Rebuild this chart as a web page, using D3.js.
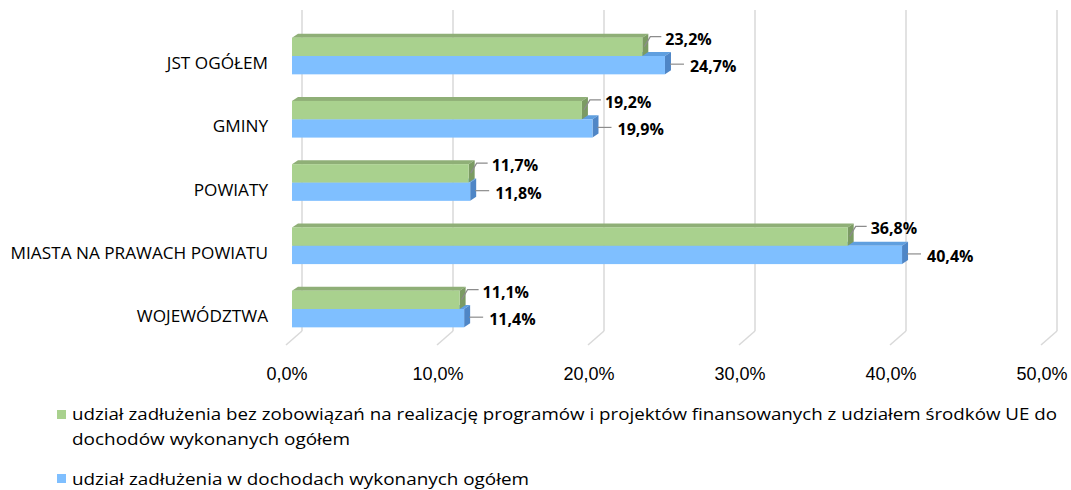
<!DOCTYPE html>
<html>
<head>
<meta charset="utf-8">
<script src="https://cdn.jsdelivr.net/npm/d3@7"></script>
<style>
  body { margin: 0; background: #fff; }
  text { fill: #000; }
</style>
</head>
<body>
<div id="chart"></div>
<script>
// chart data
var categories = ["JST OGÓŁEM", "GMINY", "POWIATY", "MIASTA NA PRAWACH POWIATU", "WOJEWÓDZTWA"];
var seriesNames = [
    "udział zadłużenia bez zobowiązań na realizację programów i projektów finansowanych z udziałem środków UE do dochodów wykonanych ogółem",
    "udział zadłużenia w dochodach wykonanych ogółem"
];
var greenValues = [23.2, 19.2, 11.7, 36.8, 11.1];
var blueValues = [24.7, 19.9, 11.8, 40.4, 11.4];
var tickValues = [0, 10, 20, 30, 40, 50];

var svgWidth = 1071;
var svgHeight = 490;

// 3D depth offset
var dx = 6, dy = 4;
var backX = 10;

var svg = d3.select("#chart")
    .append("svg")
    .attr("width", svgWidth)
    .attr("height", svgHeight);

var x = d3.scaleLinear()
    .domain([0, 50])
    .range([292, 1047]);

var y = d3.scaleBand()
    .domain(categories)
    .range([25, 340])
    .paddingInner(0.42)
    .paddingOuter(0.2);

var fmt = function (v) { return d3.format(".1f")(v).replace(".", ",") + "%"; };

// gridlines on back wall
svg.append("g")
    .selectAll("line")
    .data(tickValues)
    .enter()
    .append("line")
    .attr("x1", d => x(d) + backX)
    .attr("x2", d => x(d) + backX)
    .attr("y1", 10)
    .attr("y2", 331)
    .attr("stroke", "#d9d9d9")
    .attr("stroke-width", 1.5);

// floor diagonals
svg.append("g")
    .selectAll("line")
    .data(tickValues)
    .enter()
    .append("line")
    .attr("x1", d => x(d) + backX)
    .attr("x2", d => x(d) - 6)
    .attr("y1", 331)
    .attr("y2", 345)
    .attr("stroke", "#d9d9d9")
    .attr("stroke-width", 1.5);

// x tick labels
svg.append("g")
    .selectAll("text")
    .data(tickValues)
    .enter()
    .append("text")
    .attr("x", d => x(d) - 5)
    .attr("y", 380)
    .attr("text-anchor", "middle")
    .style("font-family", "'Liberation Sans', Arial, sans-serif")
    .style("font-size", "18px")
    .text(fmt);

// category labels
svg.append("g")
    .selectAll("text")
    .data(categories)
    .enter()
    .append("text")
    .attr("x", 268)
    .attr("y", d => y(d) + y.bandwidth() / 2 + 13)
    .attr("text-anchor", "end")
    .style("font-family", "'Open Sans', sans-serif")
    .style("font-size", "17.2px")
    .text(d => d);

var half = y.bandwidth() / 2;

function drawBar(g, val, top, front, topc, side) {
    var x0 = x(0), x1 = x(val);
    // top face
    g.append("path")
        .attr("d", `M${x0},${top} L${x0 + dx},${top - dy} L${x1 + dx},${top - dy} L${x1},${top} Z`)
        .attr("fill", topc);
    // side face
    g.append("path")
        .attr("d", `M${x1},${top} L${x1 + dx},${top - dy} L${x1 + dx},${top + half - dy} L${x1},${top + half} Z`)
        .attr("fill", side);
    // front face
    g.append("rect")
        .attr("x", x0)
        .attr("y", top)
        .attr("width", x1 - x0)
        .attr("height", half)
        .attr("fill", front);
}

var barGroup = svg.append("g");

categories.forEach(function (c, i) {
    var top = y(c);
    var g = barGroup.append("g");
    // blue drawn first (behind green top)
    drawBar(g, blueValues[i], top + half, "#7fbfff", "#5f9fdf", "#4f86c6");
    drawBar(g, greenValues[i], top, "#a9d18e", "#8faf77", "#7b9b63");

    // data labels with leader lines
    var gx = x(greenValues[i]) + dx;
    var gy = top;
    g.append("path")
        .attr("d", `M${gx - 4},${gy + 9} L${gx + 2},${gy - 1} L${gx + 13},${gy - 1}`)
        .attr("fill", "none")
        .attr("stroke", "#8c8c8c")
        .attr("stroke-width", 1.2);
    g.append("text")
        .attr("x", gx + 17)
        .attr("y", gy + 7)
        .style("font-family", "'Open Sans', sans-serif")
        .style("font-weight", "bold")
        .style("font-size", "16px")
        .text(fmt(greenValues[i]));

    var bx = x(blueValues[i]) + dx;
    var by = top + half + half / 2 - 1;
    g.append("line")
        .attr("x1", bx - 1)
        .attr("x2", bx + 13)
        .attr("y1", by)
        .attr("y2", by)
        .attr("stroke", "#8c8c8c")
        .attr("stroke-width", 1.2);
    g.append("text")
        .attr("x", bx + 19)
        .attr("y", by + 8)
        .style("font-family", "'Open Sans', sans-serif")
        .style("font-weight", "bold")
        .style("font-size", "16px")
        .text(fmt(blueValues[i]));
});

// legend
var legend = svg.append("g");
legend.append("rect")
    .attr("x", 57).attr("y", 410).attr("width", 9).attr("height", 9)
    .attr("fill", "#a9d18e");
var lt = legend.append("text")
    .style("font-family", "'Open Sans', sans-serif")
    .style("font-size", "17px");
lt.append("tspan").attr("x", 72).attr("y", 420)
    .attr("textLength", 985).attr("lengthAdjust", "spacingAndGlyphs")
    .text("udział zadłużenia bez zobowiązań na realizację programów i projektów finansowanych z udziałem środków UE do");
lt.append("tspan").attr("x", 72).attr("y", 445)
    .attr("textLength", 278).attr("lengthAdjust", "spacingAndGlyphs")
    .text("dochodów wykonanych ogółem");

legend.append("rect")
    .attr("x", 57).attr("y", 474).attr("width", 9).attr("height", 9)
    .attr("fill", "#7fbfff");
legend.append("text")
    .attr("x", 72).attr("y", 485)
    .attr("textLength", 457).attr("lengthAdjust", "spacingAndGlyphs")
    .style("font-family", "'Open Sans', sans-serif")
    .style("font-size", "17px")
    .text(seriesNames[1]);
</script>
</body>
</html>
